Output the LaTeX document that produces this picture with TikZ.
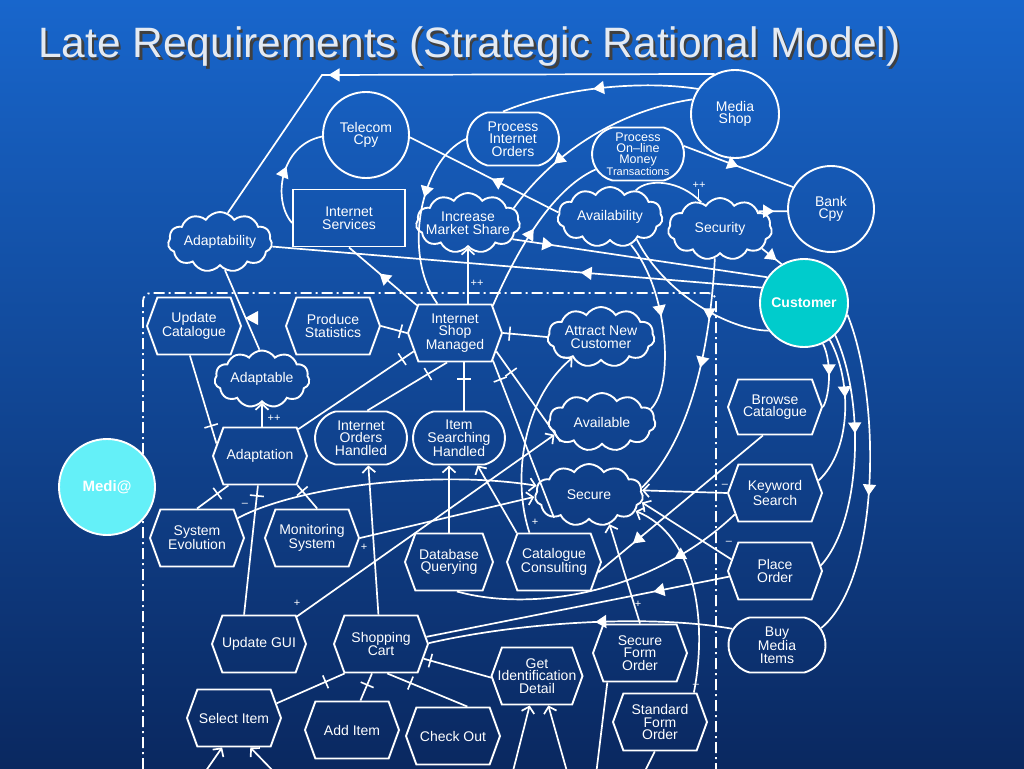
\documentclass[tikz,border=0pt]{standalone}
\usepackage{fontspec}
\setmainfont{Liberation Sans}
\usetikzlibrary{arrows.meta,shapes.symbols,shapes.misc,decorations.markings}
\definecolor{bgtop}{RGB}{24,102,204}
\definecolor{bgmid}{RGB}{14,74,160}
\definecolor{bgbot}{RGB}{10,40,96}
\definecolor{custc}{RGB}{0,204,204}
\definecolor{medic}{RGB}{100,240,248}
\definecolor{titlec}{RGB}{228,234,242}
\newcommand{\nf}{\fontsize{14}{12.6}\selectfont}
\newcommand{\lf}{\fontsize{11}{11}\selectfont}
\newcommand{\mknode}[4]{\node[#1] (#2) at (#3) {}; \node[tx] (#2-t) at (#2) {#4};}
\begin{document}
\begin{tikzpicture}[x=1pt,y=-1pt,
  ln/.style={draw=white, line width=1.7pt},
  shp/.style={draw=white, line width=1.9pt, inner sep=0pt, text=white, align=center, font=\nf},
  actor/.style={shp, circle},
  soft/.style={shp, cloud, cloud puffs=11, cloud puff arc=115, cloud ignores aspect},
  goal/.style={shp, rounded rectangle, rounded rectangle arc length=150, minimum width=92pt, minimum height=53pt},
  task/.style={shp, signal, signal to=east and west, signal pointer angle=140, minimum width=94pt, minimum height=57pt},
  res/.style={shp, rectangle, minimum width=112pt, minimum height=57pt},
  tx/.style={text=white, align=center, font=\nf, inner sep=0pt},
  lbl/.style={text=white, font=\lf, inner sep=0pt},
  dm/.style={postaction={decorate, decoration={markings, mark=at position #1 with {\arrow{Triangle[length=11pt,width=13pt]}}}}},
  dmr/.style={postaction={decorate, decoration={markings, mark=at position #1 with {\arrowreversed{Triangle[length=11pt,width=13pt]}}}}},
  tk/.style={postaction={decorate, decoration={markings, mark=at position #1 with {\draw[white, line width=1.6pt] (0pt,-7pt) -- (0pt,7pt);}}}},
  me/.style={-{Straight Barb[length=6pt,width=13pt]}},
]
\clip (0,0) rectangle (1024,768);
\shade[top color=bgtop, middle color=bgmid, bottom color=bgbot] (0,0) rectangle (1024,768);

% title with drop shadow
\node[anchor=base west, inner sep=0pt, text=black!75, font=\fontsize{42.5}{42.5}\selectfont] (title-s) at (40.5,60.5) {Late Requirements (Strategic Rational Model)};
\node[anchor=base west, inner sep=0pt, text=titlec, font=\fontsize{42.5}{42.5}\selectfont] (title) at (38,58) {Late Requirements (Strategic Rational Model)};

% boundary
\draw[white, line width=1.8pt, dash pattern=on 11pt off 4pt on 2pt off 4pt, rounded corners=8pt] (143,790) -- (143,293) -- (716,293) -- (716,790);

% actors
\node[actor, minimum size=86pt] (tel) at (366,135) {Telecom\\Cpy};
\node[actor, minimum size=88pt] (ms) at (735,114) {Media\\Shop};
\node[actor, minimum size=86pt] (bank) at (831,209) {Bank\\Cpy};
\node[actor, minimum size=88pt, fill=custc, font=\bfseries\nf] (cust) at (804,303) {Customer};
\node[actor, minimum size=96pt, fill=medic, font=\bfseries\fontsize{15}{15}\selectfont] (medi) at (107,487) {Medi@};

% softgoals
\mknode{soft, minimum width=104pt, minimum height=60pt}{adty}{220,242}{Adaptability}
\mknode{soft, minimum width=104pt, minimum height=60pt}{ims}{468,223}{Increase\\Market Share}
\mknode{soft, minimum width=105pt, minimum height=60pt}{avty}{610,217}{Availability}
\mknode{soft, minimum width=104pt, minimum height=62pt}{secy}{720,229}{Security}
\mknode{soft, minimum width=95pt, minimum height=57pt}{adpt}{262,379}{Adaptable}
\mknode{soft, minimum width=107pt, minimum height=60pt}{anc}{601,337}{Attract New\\Customer}
\mknode{soft, minimum width=107pt, minimum height=58pt}{avail}{602,422}{Available}
\mknode{soft, minimum width=108pt, minimum height=62pt}{sec}{589,495}{Secure}

% goals
\mknode{goal}{pio}{513,139}{Process\\Internet\\Orders}
\node[goal] (pom) at (638,154) {};
\node[tx, font=\fontsize{12.5}{11.2}\selectfont] (pom-t) at (638,154) {Process\\On--line\\Money\\\fontsize{11}{11}\selectfont Transactions};
\mknode{goal}{ioh}{361,438}{Internet\\Orders\\Handled}
\mknode{goal}{ish}{459,438}{Item\\Searching\\Handled}
\mknode{goal, minimum width=97pt, minimum height=55pt}{bmi}{777,645}{Buy\\Media\\Items}

% resource
\mknode{res}{is}{349,218}{Internet\\Services}

% tasks
\mknode{task}{uc}{194,326}{Update\\Catalogue}
\mknode{task}{ps}{333,326}{Produce\\Statistics}
\mknode{task}{ism}{455,333}{Internet\\Shop\\Managed}
\mknode{task}{adapt}{260,456}{Adaptation}
\mknode{task}{se}{197,538}{System\\Evolution}
\mknode{task}{mon}{312,538}{Monitoring\\System}
\mknode{task, minimum width=88pt}{dq}{449,562}{Database\\Querying}
\mknode{task}{cc}{554,562}{Catalogue\\Consulting}
\mknode{task}{ugui}{259,644}{Update GUI}
\mknode{task}{cart}{381,644}{Shopping\\Cart}
\mknode{task}{sel}{234,718}{Select Item}
\mknode{task}{add}{352,730}{Add Item}
\mknode{task}{co}{453,736}{Check Out}
\mknode{task, minimum width=91pt}{gid}{537,676}{Get\\Identification\\Detail}
\mknode{task}{sfo}{640,653}{Secure\\Form\\Order}
\mknode{task}{stfo}{660,722}{Standard\\Form\\Order}
\mknode{task, minimum height=55pt}{bc}{775,407}{Browse\\Catalogue}
\mknode{task}{ks}{775,493}{Keyword\\Search}
\mknode{task}{po}{775,571}{Place\\Order}

% ---- connectors: top area
\coordinate (c1) at (322,75);
\draw[ln, dm=0.69] (ms.117.6) -- (c1) -- (adty.75);
\draw[ln, dm=0.53] (ms.146) .. controls (640,80) and (560,88) .. (pio.110);
\draw[ln, dm=0.4] (pio.west) .. controls (420,160) and (402,255) .. (ism.121);
\draw[ln, dm=0.72] (ms.161) .. controls (610,112) and (548,160) .. (ims.18);
\draw[ln, dm=0.5] (ism.36) .. controls (515,255) and (550,190) .. (pom.200);
\draw[ln, dmr=0.55] (tel.-3) -- (avty.175);
\draw[ln, dm=0.55] (is.185) .. controls (272,200) and (280,145) .. (tel.182);
\draw[ln, dm=0.55] (ism.144) -- (is.south);
\draw[ln, me] (ims.south |- ism.north) -- (ims.south);
\node[lbl] (pp1) at (477,283) {++};
\draw[ln, dm=0.5] (pom.10) -- (bank.150);
\draw[ln, dm=0.55] (secy.25) -- (bank.183);
\draw[ln, dm=0.75] (secy.-25) -- (cust.120);
\draw[ln] (avty.46) .. controls (648,178) and (680,180) .. (secy.125);
\draw[ln] (secy.128) -- ++(0,-12);
\node[lbl] (pp3) at (699,185) {++};
\draw[ln, dm=0.16] (ims.-20) -- (cust.145);
\draw[ln, dm=0.37] (cust.160) -- (adty.-5);
\draw[ln, dm=0.42] (cust.218) .. controls (730,330) and (665,295) .. (avty.-40);
\draw[ln, dm=0.45] (avty.-53) .. controls (668,290) and (675,385) .. (avail.15);
\draw[ln, dm=0.45] (secy.-100) .. controls (710,350) and (690,440) .. (sec.8);

% ---- contributions to Secure
\draw[ln, me] (stfo.41) .. controls (708,620) and (695,535) .. (sec.-19);
\node[lbl] (m4) at (696,686) {--};
\draw[ln, me] (sfo.north) -- (sec.-55);
\node[lbl] (p4) at (638,604) {+};
\draw[ln, me] (ks.west) -- (sec.5);
\node[lbl] (m2) at (725,486) {--};
\draw[ln, me] (po.165) -- (sec.-8);
\node[lbl] (m3) at (729,543) {--};

% ---- right-hand dependencies
\draw[ln, dm=0.79] (bc.-113) -- (cc.-13);
\draw[ln, dm=0.25] (ks.208) .. controls (650,595) and (530,612) .. (dq.-75);
\draw[ln, dm=0.25] (po.187) -- (cart.9);
\draw[ln, dm=0.45] (bmi.160) .. controls (650,614) and (520,622) .. (cart.1);
\draw[ln, dm=0.5] (cust.-65) .. controls (832,362) and (830,395) .. (bc.east);
\draw[ln, dm=0.4] (cust.-55) .. controls (852,380) and (852,450) .. (ks.16);
\draw[ln, dm=0.42] (cust.-46) .. controls (865,400) and (862,520) .. (po.7);
\draw[ln, dm=0.56] (cust.-15) .. controls (882,400) and (880,580) .. (bmi.21);

% ---- inside Medi@
\draw[ln, tk=0.8] (uc.-98) -- (adapt.164);
\draw[ln, me] (adpt.south |- adapt.north) -- (adpt.south);
\node[lbl] (pp2) at (274,418) {++};
\draw[ln] (adty.-80) -- (adpt.95);
\fill[white] (245,318) -- (258,311) -- (258,325) -- cycle;
\draw[ln, tk=0.9] (adapt.35) -- (ism.204);
\draw[ln, tk=0.75] (ps.east) -- (ism.west);
\draw[ln, tk=0.76] (ioh.77) -- (ism.-105);
\draw[ln, tk=0.66] (ish.80) -- (ish.80 |- ism.south);
\draw[ln, tk=0.15] (ism.east) -- (anc.west);
\draw[ln, tk=0.23] (ism.-24) -- (avail.205);
\draw[ln, tk=0.12] (ism.-36) -- (sec.213);
\draw[ln, me] (cart.95) -- (ioh.-75);
\draw[ln, me] (dq.north) -- (dq.north |- ish.south);
\draw[ln, me] (cc.142) -- (ish.-56);
\draw[ln, me] (se.26) .. controls (300,485) and (440,470) .. (sec.170);
\node[lbl] (m1) at (245,505) {--};
\draw[ln, me] (mon.east) -- (sec.182);
\node[lbl] (p1) at (364,547) {+};
\draw[ln, me] (ugui.36) -- (avail.195);
\node[lbl] (p2) at (297,603) {+};
\draw[ln, me] (cc.130) .. controls (512,480) and (522,400) .. (anc.216);
\node[lbl] (p3) at (535,522) {+};
\draw[ln, tk=0.35] (adapt.223) -- (se.north);
\draw[ln, tk=0.08] (adapt.-94) -- (ugui.117);
\draw[ln, tk=0.25] (adapt.-38) -- (mon.80);
\draw[ln, tk=0.72] (sel.19) -- (cart.219);
\draw[ln, tk=0.58] (add.74) -- (cart.-107);
\draw[ln, tk=0.29] (cart.-78) -- (co.64);
\draw[ln, tk=0.1] (cart.-19) -- (gid.182);

% ---- off the bottom edge
\coordinate (b1) at (203,775);
\coordinate (b2) at (277,775);
\coordinate (b3) at (512,775);
\coordinate (b4) at (568,775);
\coordinate (b5) at (596,775);
\coordinate (b6) at (643,775);
\draw[ln, me] (b1) -- (sel.-112);
\draw[ln, me] (b2) -- (sel.-61);
\draw[ln, me] (b3) -- (gid.-104);
\draw[ln, me] (b4) -- (gid.-69);
\draw[ln] (sfo.222) -- (b5);
\draw[ln] (stfo.-100) -- (b6);
\end{tikzpicture}
\end{document}
